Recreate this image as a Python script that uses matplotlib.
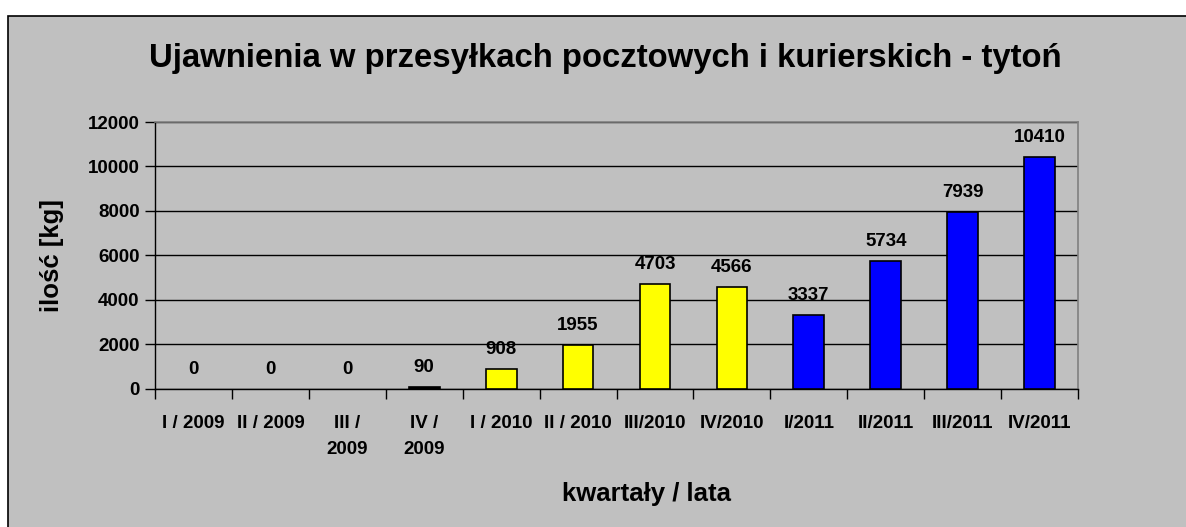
import matplotlib.pyplot as plt
from matplotlib.patches import Rectangle
import numpy as np

plt.rcParams['font.family'] = ['Liberation Sans', 'DejaVu Sans']

quarters = ['I / 2009', 'II / 2009', 'III /\n2009', 'IV /\n2009', 'I / 2010', 'II / 2010',
            'III/2010', 'IV/2010', 'I/2011', 'II/2011', 'III/2011', 'IV/2011']
values = [0, 0, 0, 90, 908, 1955, 4703, 4566, 3337, 5734, 7939, 10410]
bar_colors = ['black'] * 4 + ['#FFFF00'] * 4 + ['#0000FF'] * 4

bg = '#C0C0C0'

fig = plt.figure(figsize=(11.86, 5.27), dpi=100)
fig.patch.set_facecolor('white')
# grey chart area with black frame
fig.patches.append(Rectangle((8 / 1186, -0.01), 1.0, 1 - 16 / 527 + 0.01,
                             transform=fig.transFigure, facecolor=bg,
                             edgecolor='black', linewidth=1.2, zorder=-10))

ax = fig.add_axes([0.1307, 0.2619, 0.909 - 0.1307, 0.7685 - 0.2619])
ax.set_facecolor(bg)

x = np.arange(len(values))
edge_w = [0 if v == 0 else 1.2 for v in values]
ax.bar(x, values, width=0.4, color=bar_colors, edgecolor='black', linewidth=edge_w, zorder=3)

for xi, v in zip(x, values):
    ax.annotate(str(v), (xi, v), xytext=(0, 8), textcoords='offset points',
                ha='center', va='bottom', fontsize=13.5, fontweight='bold')

ax.set_xlim(-0.5, len(values) - 0.5)
ax.set_ylim(0, 12000)
ax.set_yticks(range(0, 12001, 2000))
ax.yaxis.grid(True, color='black', linewidth=1.0, zorder=1)
ax.set_axisbelow(True)

ax.set_xticks(x)
ax.set_xticklabels(quarters, fontsize=13.5, fontweight='bold', linespacing=1.7, va='top')
ax.set_xticks(np.arange(-0.5, len(values), 1.0), minor=True)
ax.tick_params(axis='x', which='major', length=0, pad=19)
ax.tick_params(axis='x', which='minor', length=7, width=1, direction='out')
ax.tick_params(axis='y', length=7, width=1, direction='out', labelsize=13.5, pad=4)
for lbl in ax.get_yticklabels():
    lbl.set_fontweight('bold')

for side in ['top', 'right']:
    ax.spines[side].set_color('#808080')
    ax.spines[side].set_linewidth(1.2)
for side in ['left', 'bottom']:
    ax.spines[side].set_color('black')
    ax.spines[side].set_linewidth(1.0)

ax.set_ylabel('ilość [kg]', fontsize=18.5, fontweight='bold')
ax.set_xlabel('kwartały / lata', fontsize=18.5, fontweight='bold')
ax.yaxis.set_label_coords(-0.099, 0.5)
ax.xaxis.set_label_coords(0.532, -0.35)

fig.text(0.51, 1 - 58 / 527, 'Ujawnienia w przesyłkach pocztowych i kurierskich - tytoń',
         ha='center', va='center', fontsize=23.7, fontweight='bold')

fig.savefig('out.png', dpi=100, facecolor=fig.get_facecolor())
